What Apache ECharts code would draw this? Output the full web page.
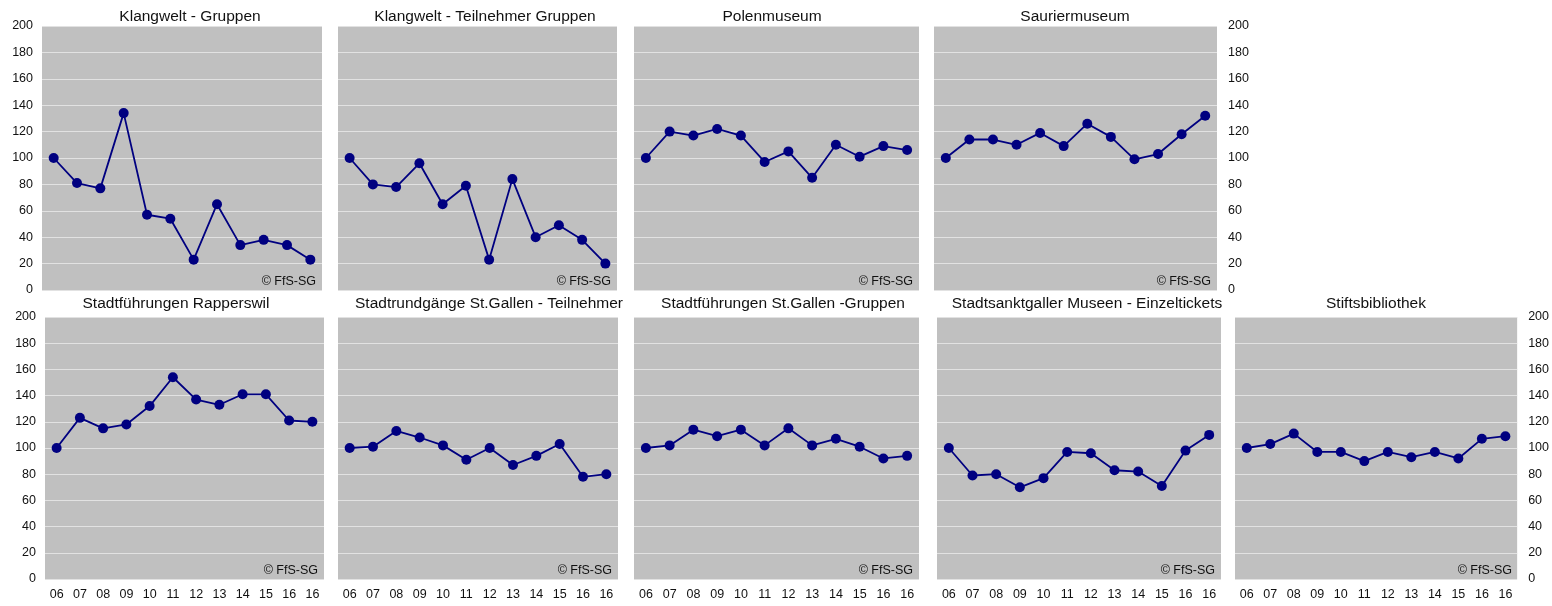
<!DOCTYPE html>
<html>
<head>
<meta charset="utf-8">
<script src="https://cdn.jsdelivr.net/npm/echarts@6/dist/echarts.min.js"></script>
<style>
html,body{margin:0;padding:0;background:#fff;}
#c{width:1552px;height:606px;}
</style>
</head>
<body>
<div id="c"></div>
<script>
const categories = ['06','07','08','09','10','11','12','13','14','15','16','16'];
const yTicks = [0,20,40,60,80,100,120,140,160,180,200];

const titles = [
  'Klangwelt - Gruppen',
  'Klangwelt - Teilnehmer Gruppen',
  'Polenmuseum',
  'Sauriermuseum',
  'Stadtführungen Rapperswil',
  'Stadtrundgänge St.Gallen - Teilnehmer',
  'Stadtführungen St.Gallen -Gruppen',
  'Stadtsanktgaller Museen - Einzeltickets',
  'Stiftsbibliothek'
];

const klangweltGruppen      = [100, 81, 77, 134, 57, 54, 23, 65, 34, 38, 34, 23];
const klangweltTeilnehmer   = [100, 80, 78, 96, 65, 79, 23, 84, 40, 49, 38, 20];
const polenmuseum           = [100, 120, 117, 122, 117, 97, 105, 85, 110, 101, 109, 106];
const sauriermuseum         = [100, 114, 114, 110, 119, 109, 126, 116, 99, 103, 118, 132];
const rapperswil            = [100, 123, 115, 118, 132, 154, 137, 133, 141, 141, 121, 120];
const rundgaengeTeilnehmer  = [100, 101, 113, 108, 102, 91, 100, 87, 94, 103, 78, 80];
const fuehrungenGruppen     = [100, 102, 114, 109, 114, 102, 115, 102, 107, 101, 92, 94];
const museenEinzeltickets   = [100, 79, 80, 70, 77, 97, 96, 83, 82, 71, 98, 110];
const stiftsbibliothek      = [100, 103, 111, 97, 97, 90, 97, 93, 97, 92, 107, 109];

const seriesData = [klangweltGruppen, klangweltTeilnehmer, polenmuseum, sauriermuseum,
  rapperswil, rundgaengeTeilnehmer, fuehrungenGruppen, museenEinzeltickets, stiftsbibliothek];

// layout: [left, top, width, height, titleCenterX]
const layout = [
  [42, 26, 280, 264, 190],
  [338, 26, 279, 264, 485],
  [634, 26, 285, 264, 772],
  [934, 26, 283, 264, 1075],
  [45, 317, 279, 262, 176],
  [338, 317, 280, 262, 489],
  [634, 317, 285, 262, 783],
  [937, 317, 284, 262, 1087],
  [1235, 317, 283, 262, 1376]
];
const yLabelSide = ['left', null, null, 'right', 'left', null, null, null, 'right'];
const FONT = '"Liberation Sans", Arial, sans-serif';

const grids = [], xAxes = [], yAxes = [], series = [], graphics = [];
layout.forEach((g, i) => {
  const [l, t, w, h, tx] = g;
  const bottomRow = i >= 4;
  grids.push({left: l, top: t, width: w, height: h, show: true,
    backgroundColor: '#c0c0c0', borderWidth: 0, containLabel: false});
  xAxes.push({type: 'category', gridIndex: i, data: categories, boundaryGap: true,
    axisLine: {show: false}, axisTick: {show: false},
    axisLabel: {show: bottomRow, color: '#111', fontSize: 12.5, fontFamily: FONT, margin: 9, interval: 0},
    splitLine: {show: false}});
  const side = yLabelSide[i];
  yAxes.push({type: 'value', gridIndex: i, min: 0, max: 200, interval: 20,
    position: side === 'right' ? 'right' : 'left',
    axisLine: {show: false}, axisTick: {show: false},
    axisLabel: {show: !!side, color: '#111', fontSize: 12.5, fontFamily: FONT, margin: side === 'right' ? 11 : 9},
    splitLine: {show: true, lineStyle: {color: '#e2e2e2', width: 1}}});
  series.push({type: 'line', xAxisIndex: i, yAxisIndex: i, data: seriesData[i],
    symbol: 'circle', symbolSize: 10, showSymbol: true,
    lineStyle: {color: '#000080', width: 1.8},
    itemStyle: {color: '#000080'}, animation: false});
  graphics.push({type: 'text', x: tx, y: t - (bottomRow ? 13 : 9),
    style: {text: titles[i], fill: '#111', font: '15.5px ' + FONT, align: 'center', verticalAlign: 'middle'}});
  graphics.push({type: 'text', x: l + w - 6, y: t + h - 2,
    style: {text: '© FfS-SG', fill: '#111', font: '12.5px ' + FONT, align: 'right', verticalAlign: 'bottom'}});
});

const chart = echarts.init(document.getElementById('c'));
chart.setOption({
  animation: false,
  grid: grids, xAxis: xAxes, yAxis: yAxes, series: series,
  graphic: graphics
});
</script>
</body>
</html>
